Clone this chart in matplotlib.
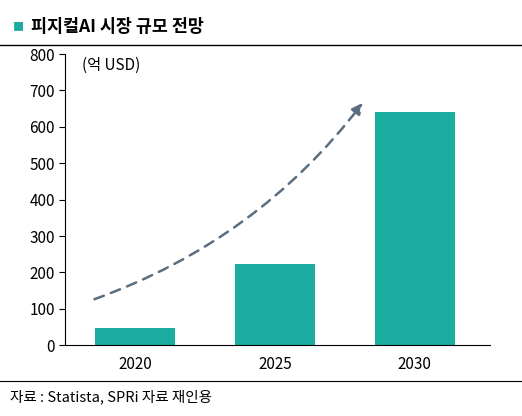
import matplotlib
matplotlib.use("Agg")
import matplotlib.pyplot as plt
from matplotlib.lines import Line2D

plt.rcParams['font.family'] = ['Noto Sans CJK KR', 'DejaVu Sans']

years = ["2020", "2025", "2030"]
values = [48, 222, 642]
yticks = [0, 100, 200, 300, 400, 500, 600, 700, 800]
color = "#1AADA0"

fig = plt.figure(figsize=(5.22, 4.16), dpi=100)
ax = fig.add_axes([0.125, 0.17, 0.814, 0.70])
x = range(len(years))
ax.bar(x, values, width=0.57, color=color, zorder=2)
ax.set_xlim(-0.5, 2.54)
ax.set_ylim(0, 800)
ax.set_yticks(yticks)
ax.set_xticks(list(x))
ax.set_xticklabels(years)
ax.tick_params(labelsize=11, color="black", length=4)
ax.tick_params(axis='x', length=0, pad=8)
for s in ["top", "right"]:
    ax.spines[s].set_visible(False)
ax.text(-0.38, 770, "(억 USD)", fontsize=11, va="center")

ax.annotate("", xy=(1.64, 672), xytext=(-0.31, 124),
            arrowprops=dict(arrowstyle="-|>", linestyle=(0, (4, 3)), color="#5A6E80",
                            lw=1.8, connectionstyle="arc3,rad=0.15", mutation_scale=16))

fig.text(0.025, 0.935, "■", color=color, fontsize=8, va="center")
fig.text(0.06, 0.935, "피지컬AI 시장 규모 전망", fontsize=12.5, fontweight="bold", va="center")
fig.add_artist(Line2D([0.0, 1.0], [0.893, 0.893], color="black", lw=1))
fig.add_artist(Line2D([0.0, 1.0], [0.083, 0.083], color="black", lw=0.8))
fig.text(0.02, 0.045, "자료 : Statista, SPRi 자료 재인용", fontsize=10.5, va="center")

fig.savefig("out.png", dpi=100)
